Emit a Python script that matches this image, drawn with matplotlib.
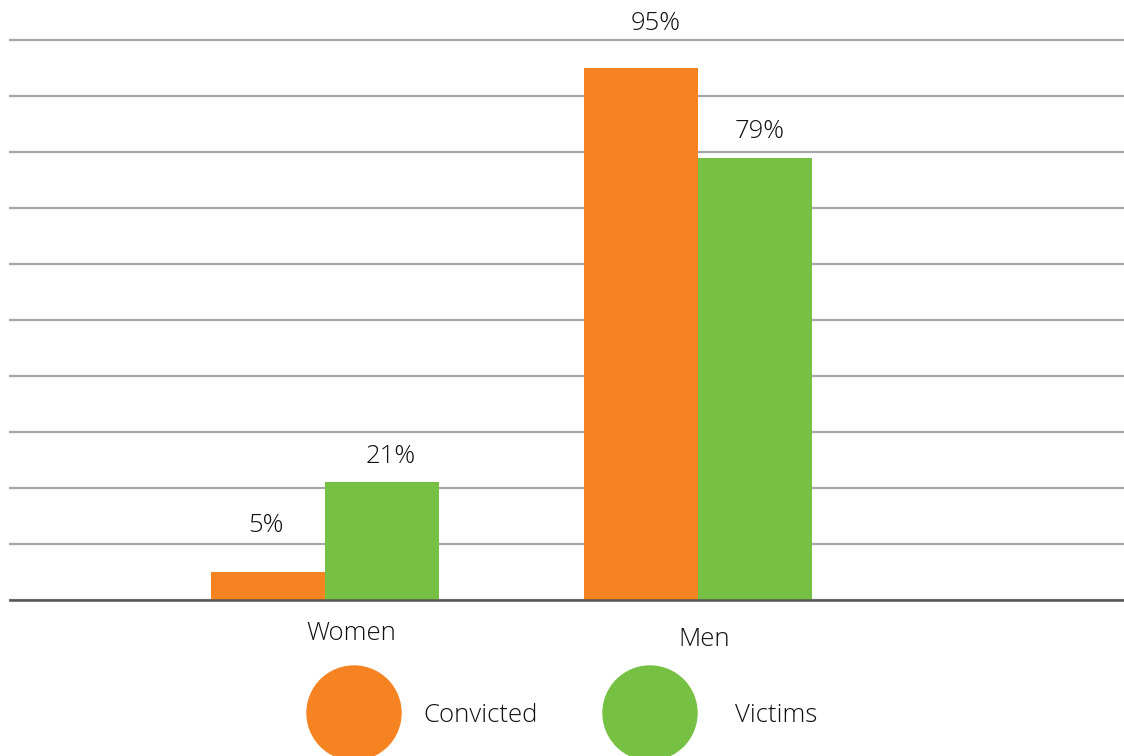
import matplotlib.pyplot as plt
from matplotlib.patches import Ellipse
import numpy as np

plt.rcParams['font.family'] = ['Open Sans', 'DejaVu Sans']

categories = ['Women', 'Men']
convicted = [5, 95]
victims = [21, 79]
series_names = ['Convicted', 'Victims']
colors = ['#F58322', '#76C043']

W, H = 1124, 756
fig = plt.figure(figsize=(W / 100, H / 100), dpi=100, facecolor='white')
ax = fig.add_axes([10 / W, 156 / H, 1 - 10 / W, 560 / H])

x = np.arange(len(categories))
bw = 0.305
b1 = ax.bar(x - bw / 2, convicted, bw, color=colors[0], zorder=3)
b2 = ax.bar(x + bw / 2, victims, bw, color=colors[1], zorder=3)

ax.set_xlim(-0.845, 2.142)
ax.set_ylim(0, 100)
ax.set_yticks(np.arange(0, 101, 10))
ax.yaxis.grid(True, color='#a6a6a6', linewidth=1.6, zorder=0)
for gl in ax.yaxis.get_gridlines():
    gl.set_clip_on(False)
ax.set_axisbelow(True)
ax.tick_params(left=False, bottom=False, labelleft=False, labelbottom=False)
for s in ['left', 'right', 'top']:
    ax.spines[s].set_visible(False)
ax.spines['bottom'].set_color('#555555')
ax.spines['bottom'].set_linewidth(1.8)
ax.spines['bottom'].set_zorder(4)

FS = 18.5
TXT = '#111111'

# value labels (pixel offsets of label centre from bar top: dx, dy)
label_offsets = [[(-2, 46), (14, 45)], [(9, 26), (5, 26)]]
for j, bars in enumerate([b1, b2]):
    for i, rect in enumerate(bars):
        dx, dy = label_offsets[j][i]
        ax.annotate(f'{int(rect.get_height())}%',
                    (rect.get_x() + rect.get_width() / 2, rect.get_height()),
                    xytext=(dx * 0.72, dy * 0.72), textcoords='offset points',
                    ha='center', va='center', fontsize=FS, fontweight='light',
                    color=TXT)

# category labels under the axis
cat_offsets = [(26, -33), (6, -40)]
for i, c in enumerate(categories):
    dx, dy = cat_offsets[i]
    ax.annotate(c, (x[i], 0), xytext=(dx * 0.72, dy * 0.72),
                textcoords='offset points', ha='center', va='center',
                fontsize=FS, fontweight='light', color=TXT,
                annotation_clip=False)

# legend with big circles
legend_centers = [354, 650]
text_x = [423, 735]
for k, name in enumerate(series_names):
    fig.add_artist(Ellipse((legend_centers[k] / W, 1 - 713 / H), 94 / W, 94 / H,
                           transform=fig.transFigure, color=colors[k]))
    fig.text(text_x[k] / W, 1 - 715 / H, name, ha='left', va='center',
             fontsize=FS, fontweight='light', color=TXT)

fig.savefig('out.png', dpi=100, facecolor='white')
